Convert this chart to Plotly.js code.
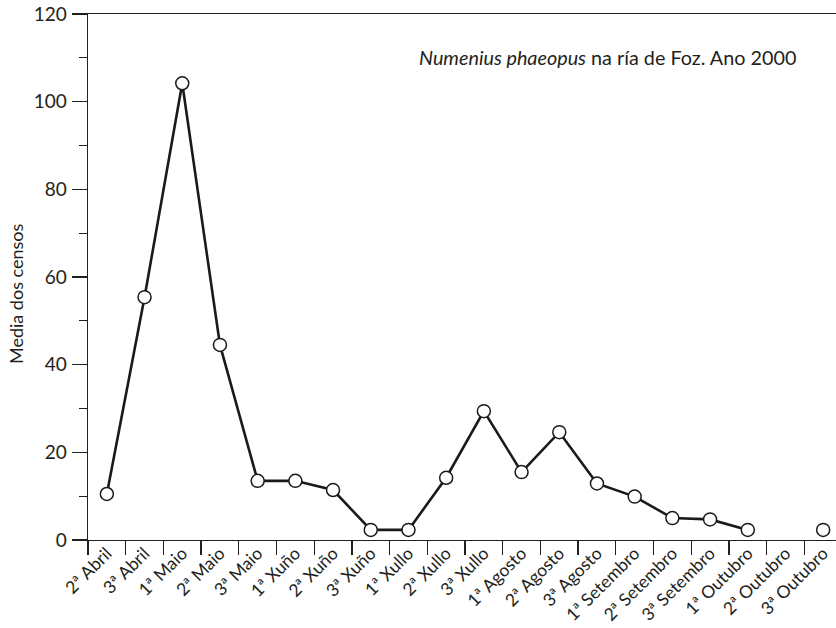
<!DOCTYPE html>
<html>
<head>
<meta charset="utf-8">
<script src="https://cdn.plot.ly/plotly-3.0.1.min.js"></script>
<style>html,body{margin:0;padding:0;background:#fff;}#chart{width:836px;height:628px;}</style>
</head>
<body>
<div id="chart"></div>
<script>
var categories = ["2ª Abril","3ª Abril","1ª Maio","2ª Maio","3ª Maio","1ª Xuño","2ª Xuño","3ª Xuño","1ª Xullo","2ª Xullo","3ª Xullo","1ª Agosto","2ª Agosto","3ª Agosto","1ª Setembro","2ª Setembro","3ª Setembro","1ª Outubro","2ª Outubro","3ª Outubro"];
var mediaCensos = [10.5, 55.4, 104.2, 44.5, 13.5, 13.5, 11.4, 2.3, 2.3, 14.2, 29.4, 15.5, 24.6, 12.9, 9.9, 5.0, 4.7, 2.3, null, 2.3];
var yTickVals = [0, 20, 40, 60, 80, 100, 120];
var chartTitle = "<i>Numenius phaeopus</i> na ría de Foz. Ano 2000";
var yTitle = "Media dos censos";

var ink = "#231f20";
var fontFam = "Lato, 'Open Sans', sans-serif";

var trace = {
  x: categories,
  y: mediaCensos,
  type: "scatter",
  mode: "lines+markers",
  connectgaps: false,
  line: {color: "#1a1a1a", width: 2.6},
  marker: {symbol: "circle", size: 13, color: "#ffffff", line: {color: "#1a1a1a", width: 1.5}},
  hoverinfo: "x+y"
};

var layout = {
  width: 836, height: 628,
  margin: {l: 88, r: 0, t: 14, b: 88},
  paper_bgcolor: "#ffffff", plot_bgcolor: "#ffffff",
  showlegend: false,
  font: {family: fontFam, color: ink, size: 17},
  xaxis: {
    type: "category",
    range: [-0.5, 19.34],
    tickson: "boundaries",
    ticks: "outside", ticklen: 14, tickwidth: 1.3, tickcolor: ink,
    tickangle: -45,
    ticklabelstandoff: -5,
    tickfont: {family: fontFam, size: 17.5, color: ink},
    showline: true, linecolor: ink, linewidth: 1.3, mirror: true,
    showgrid: false, zeroline: false, fixedrange: true
  },
  yaxis: {
    range: [0, 120],
    tickvals: yTickVals,
    ticktext: yTickVals.map(String),
    ticks: "outside", ticklen: 15, tickwidth: 1.3, tickcolor: ink,
    ticklabelstandoff: 1,
    minor: {dtick: 10, tick0: 0, ticks: "outside", ticklen: 8, tickwidth: 1.3, tickcolor: ink, showgrid: false},
    tickfont: {family: fontFam, size: 19, color: ink},
    showline: true, linecolor: ink, linewidth: 1.3, mirror: false,
    showgrid: false, zeroline: false, fixedrange: true
  },
  annotations: [
    {text: chartTitle, xref: "paper", yref: "paper", x: 0.949, y: 0.918,
     xanchor: "right", yanchor: "middle", showarrow: false,
     font: {family: fontFam, size: 19.8, color: ink}},
    {text: yTitle, xref: "paper", yref: "paper", x: -0.096, y: 0.468,
     xanchor: "center", yanchor: "middle", textangle: -90, showarrow: false,
     font: {family: fontFam, size: 18, color: ink}}
  ]
};

Plotly.newPlot("chart", [trace], layout, {displayModeBar: false, staticPlot: true});
</script>
</body>
</html>
